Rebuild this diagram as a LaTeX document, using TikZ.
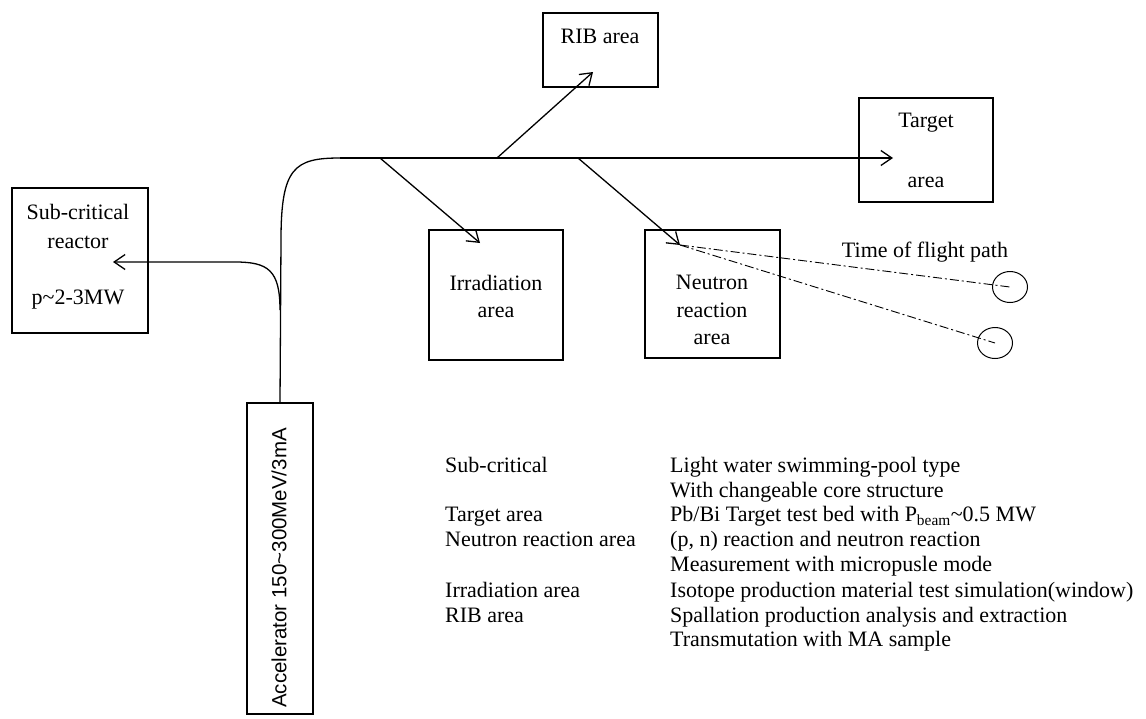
\documentclass[tikz,border=0pt]{standalone}
\usepackage{fontspec}
\setmainfont{Liberation Serif}
\newfontfamily\accfont{Liberation Sans}
\usetikzlibrary{arrows.meta,shapes.geometric}
\begin{document}
\begin{tikzpicture}[x=1pt,y=-1pt,
  box/.style={draw,line width=1.3pt,inner sep=0pt},
  lbl/.style={font=\fontsize{22}{25}\selectfont,inner sep=0pt},
  tbl/.style={font=\fontsize{22}{25}\selectfont,anchor=west,inner sep=0pt,text height=0.7em,text depth=0.2em},
  beam/.style={line width=1.3pt},
  arr/.style={beam,-{Straight Barb[length=11pt,width=15pt,line width=1.3pt]}},
  det/.style={draw,line width=1pt,ellipse,minimum width=35pt,minimum height=31pt,inner sep=0pt},
  tof/.style={line width=0.9pt,dash pattern=on 9pt off 3pt on 2pt off 3pt}]
\useasboundingbox (0,0) rectangle (1146,718);
% boxes
\node[box,minimum width=136pt,minimum height=145pt] (sub) at (80,260.5) {};
\node[lbl] (subA) at (78,212) {Sub-critical};
\node[lbl] (subB) at (78,242) {reactor};
\node[lbl] (subC) at (78,300) {p\textasciitilde 2-3MW};
\node[box,minimum width=115pt,minimum height=74pt] (rib) at (600.5,50) {};
\node[lbl] (ribT) at (600,36) {RIB area};
\node[box,minimum width=134pt,minimum height=104pt] (tgt) at (926,150) {};
\node[lbl] (tgtA) at (926,123) {Target};
\node[lbl] (tgtB) at (926,182) {area};
\node[box,minimum width=134pt,minimum height=130pt] (irr) at (496,295) {};
\node[lbl] (irrA) at (496,283) {Irradiation};
\node[lbl] (irrB) at (496,312) {area};
\node[box,minimum width=135pt,minimum height=128pt] (neu) at (712.5,294) {};
\node[lbl] (neuA) at (712,282) {Neutron};
\node[lbl] (neuB) at (712,310) {reaction};
\node[lbl] (neuC) at (712,339) {area};
\node[box,minimum width=66pt,minimum height=311pt] (acc) at (280,558.5) {};
\node[inner sep=0pt,rotate=90,font=\accfont\fontsize{20.5}{23}\selectfont] (accT) at (279,568) {Accelerator 150\textasciitilde 300MeV/3mA};
% circles
\node[det] (c1) at (1010,287) {};
\node[det] (c2) at (995,343) {};
\node[lbl] (tofT) at (925,252) {Time of flight path};
% coordinates
\coordinate (accTop) at (acc.north);
\coordinate (bend) at (281,240);
\coordinate (hStart) at (340,158);
\coordinate (tgtTip) at (893,158);
\coordinate (subSplit) at (280,310);
\coordinate (subTip) at (113,262);
\coordinate (irrFrom) at (380,158);
\coordinate (irrTip) at (480,243);
\coordinate (ribFrom) at (497,158);
\coordinate (ribTip) at (593,72);
\coordinate (neuFrom) at (578,158);
\coordinate (neuTip) at (680,245);
% beam lines
\draw[beam] (accTop) -- (bend) .. controls (281,168) and (294,158) .. (hStart);
\draw[arr] (hStart) -- (tgtTip);
\draw[arr] (subSplit) .. controls (280,270) and (268,262) .. (235,262) -- (subTip);
\draw[arr] (irrFrom) -- (irrTip);
\draw[arr] (ribFrom) -- (ribTip);
\draw[arr] (neuFrom) -- (neuTip);
\draw[tof] (neuTip) -- (c1.center);
\draw[tof] (neuTip) -- (c2.center);
% table
\node[tbl] (t1a) at (445,470) {Sub-critical};
\node[tbl] (t1b) at (670,470) {Light water swimming-pool type};
\node[tbl] (t1c) at (670,495) {With changeable core structure};
\node[tbl] (t2a) at (445,519) {Target area};
\node[tbl] (t2b) at (670,519) {Pb/Bi Target test bed with P$_{\mathrm{beam}}$\textasciitilde 0.5 MW};
\node[tbl] (t3a) at (445,544) {Neutron reaction area};
\node[tbl] (t3b) at (670,544) {(p, n) reaction and neutron reaction};
\node[tbl] (t3c) at (670,569) {Measurement with micropusle mode};
\node[tbl] (t4a) at (445,595) {Irradiation area};
\node[tbl] (t4b) at (670,595) {Isotope production material test simulation(window)};
\node[tbl] (t5a) at (445,620) {RIB area};
\node[tbl] (t5b) at (670,620) {Spallation production analysis and extraction};
\node[tbl] (t5c) at (670,644) {Transmutation with MA sample};
\end{tikzpicture}
\end{document}
